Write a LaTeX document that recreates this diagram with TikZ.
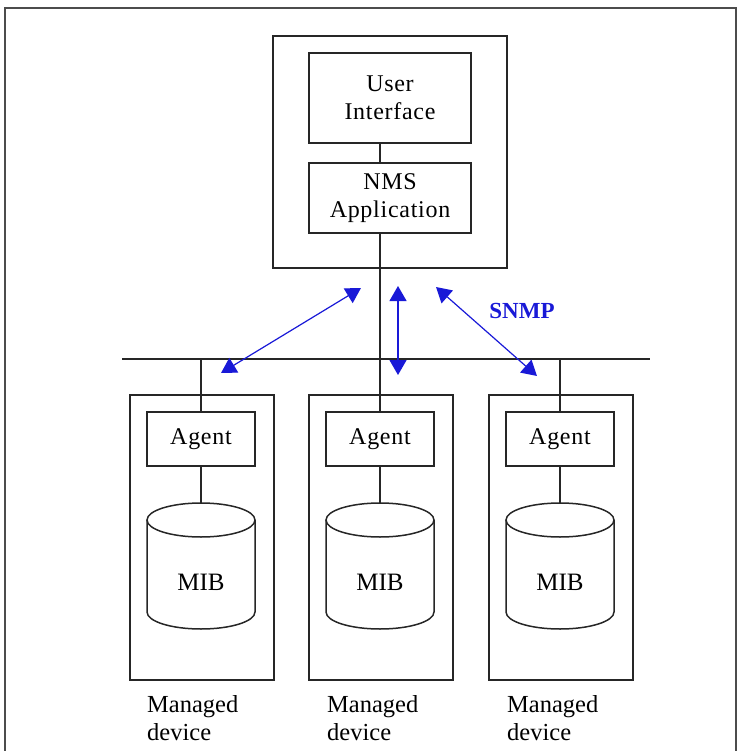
\documentclass[tikz,border=0pt]{standalone}
\usepackage{fontspec}
\setmainfont{Liberation Serif}
\usetikzlibrary{arrows.meta}
\definecolor{snmpblue}{RGB}{25,25,215}
\begin{document}
\begin{tikzpicture}[x=1pt,y=-1pt,
  ln/.style={line width=1.5pt, draw=black!85},
  boxnode/.style={ln, draw, rectangle, inner sep=0pt, align=center,
    font=\fontsize{24}{28}\selectfont\addfontfeature{LetterSpace=3}},
  lbl/.style={inner sep=0pt, align=left, anchor=north west,
    font=\fontsize{24.5}{28}\selectfont},
  snmparrow/.style={draw=snmpblue, line width=1.2pt,
    {Triangle[length=15pt,width=17pt]}-{Triangle[length=15pt,width=17pt]}},
  cyl/.style={ln, fill=white},
  mibnode/.style={inner sep=0pt, minimum width=108pt, minimum height=126pt}
]
\useasboundingbox (0,0) rectangle (740,751);
% outer frame
\draw[line width=1.6pt, draw=black!70] (5,751) -- (5,8) -- (736,8) -- (736,751);

% NMS
\node[boxnode, minimum width=234pt, minimum height=232pt] (nms) at (390,152) {};
\node[boxnode, minimum width=162pt, minimum height=90pt] (ui) at (390,98) {User\\Interface};
\node[boxnode, minimum width=162pt, minimum height=70pt] (app) at (390,198) {NMS\\Application};

% devices
\foreach \n/\cx/\ax in {l/202/201, m/381/380, r/561/560}{
  \node[boxnode, minimum width=144pt, minimum height=285pt] (dev\n) at (\cx,537.5) {};
  \node[boxnode, minimum width=108pt, minimum height=54pt] (agent\n) at (\ax,439) {Agent};
  % cylinder
  \draw[cyl] (\ax-54,520) -- (\ax-54,612) arc[start angle=180,end angle=360,x radius=54,y radius=-17] -- (\ax+54,520);
  \draw[cyl] (\ax,520) ellipse[x radius=54, y radius=17];
  \node[mibnode] (mib\n) at (\ax,566) {};
  \node[inner sep=0pt, font=\fontsize{25}{28}\selectfont] (mibt\n) at (\ax,582) {MIB};
  \draw[ln] (agent\n.south) -- (mib\n.north);
}
\node[lbl] (labl) at (147,695) {Managed\\device};
\node[lbl] (labm) at (327,695) {Managed\\device};
\node[lbl] (labr) at (507,695) {Managed\\device};

% bus
\coordinate (busL) at (122,359);
\coordinate (busR) at (650,359);
\draw[ln] (busL) -- (busR);
\draw[ln] (ui.south -| agentm.north) -- (app.north -| agentm.north);
\draw[ln] (app.south -| agentm.north) -- (agentm.north);
\draw[ln] (busL -| agentl.north) -- (agentl.north);
\draw[ln] (busL -| agentr.north) -- (agentr.north);

% SNMP arrows
\coordinate (a1s) at (221,373); \coordinate (a1e) at (361,288);
\coordinate (a2s) at (398,375); \coordinate (a2e) at (398,286);
\coordinate (a3s) at (537,376); \coordinate (a3e) at (436,287);
\draw[snmparrow] (a1s) -- (a1e);
\draw[snmparrow] (a2s) -- (a2e);
\draw[snmparrow] (a3s) -- (a3e);
\node[text=snmpblue, inner sep=0pt, font=\bfseries\fontsize{23}{26}\selectfont] (snmp) at (522,311) {SNMP};
\end{tikzpicture}
\end{document}
